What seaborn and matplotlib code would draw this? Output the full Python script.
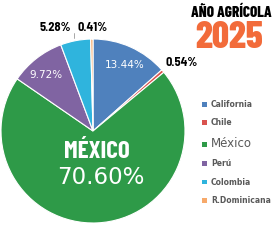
import matplotlib
matplotlib.use("Agg")
import matplotlib.pyplot as plt
from matplotlib.patches import Patch
import seaborn as sns

# ========== DATA ==========
countries = ["California", "Chile", "México", "Perú", "Colombia", "R.Dominicana"]
shares = [13.44, 0.54, 70.60, 9.72, 5.28, 0.41]
colors = ["#4F81BD", "#D9534F", "#2E9A48", "#8064A2", "#2FB4DD", "#F7A96A"]

# label placement (axes data units) and whether it sits inside the slice
label_pos = [(0.34, 0.72), (0.96, 0.74), (0.08, -0.51), (-0.51, 0.61), (-0.41, 1.12), (-0.01, 1.12)]
label_inside = [True, False, True, True, False, False]

CONDENSED = ["Barlow Condensed", "DejaVu Sans"]
SEMI = ["Barlow Semi Condensed", "DejaVu Sans"]

# ========== PLOT ==========
sns.set_style("white")
plt.rcParams["font.family"] = ["DejaVu Sans"]

fig = plt.figure(figsize=(2.74, 2.5), dpi=100)
ax = fig.add_axes([1 / 274, 27 / 250, 184 / 274, 184 / 250])

wedges, _ = ax.pie(shares, colors=colors, startangle=90, counterclock=False,
                   wedgeprops=dict(edgecolor="white", linewidth=0.8))
ax.set_xlim(-1, 1)
ax.set_ylim(-1, 1)
ax.set_aspect("equal")
ax.axis("off")

for i, (val, (x, y)) in enumerate(zip(shares, label_pos)):
    txt = f"{val:.2f}%"
    if i == 2:
        ax.text(x, y, txt, color="white", fontsize=16.5, ha="center", va="center")
        ax.text(0.04, -0.23, countries[i].upper(), color="white", fontsize=18,
                fontweight="bold", family=CONDENSED, ha="center", va="center")
    elif label_inside[i]:
        ax.text(x, y, txt, color="white", fontsize=7.5, ha="center", va="center")
    else:
        ax.text(x, y, txt, color="black", fontsize=9, fontweight="bold",
                family=SEMI, ha="center", va="center")

# small leader line for 5.28%
ax.plot([-0.21, -0.21], [1.07, 1.01], color="#999999", lw=0.6, clip_on=False)

# title
fig.text(0.99, 0.932, "AÑO AGRÍCOLA", fontsize=11, fontweight="heavy", family=CONDENSED,
         ha="right", va="baseline", color="black")
fig.text(0.961, 0.808, "2025", fontsize=27, fontweight="heavy", family=CONDENSED,
         ha="right", va="baseline", color="#F26B3A")

# legend
handles = [Patch(facecolor=c, edgecolor="none") for c in colors]
leg = fig.legend(handles, countries, loc="upper left", bbox_to_anchor=(0.725, 0.615),
                 frameon=False, fontsize=5.5, handlelength=0.6, handleheight=0.6,
                 handletextpad=0.5, labelspacing=1.23, borderpad=0)
for i, t in enumerate(leg.get_texts()):
    t.set_color("#595959")
    if i == 2:
        t.set_fontsize(8.5)
    else:
        t.set_fontweight("bold")

plt.savefig("out.png", dpi=100)
